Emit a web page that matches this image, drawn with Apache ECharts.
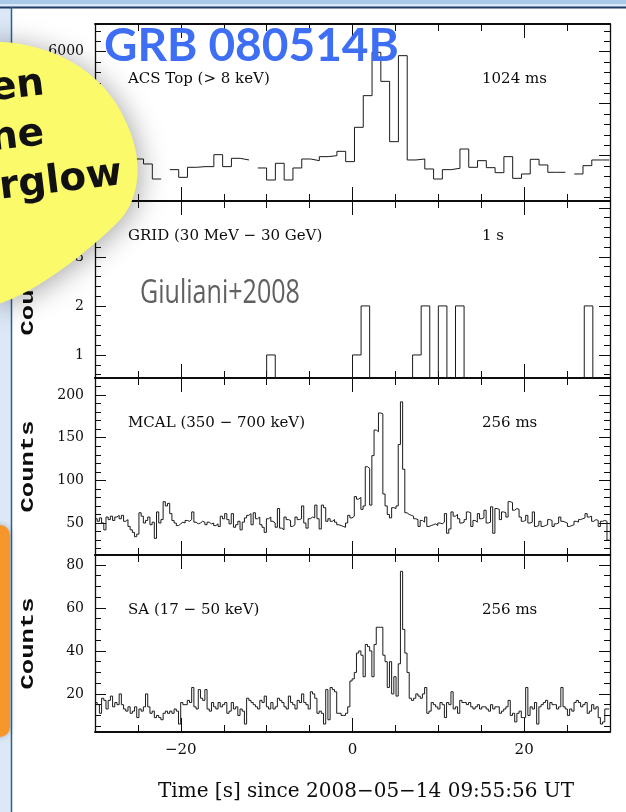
<!DOCTYPE html>
<html><head><meta charset="utf-8">
<script src="https://cdn.jsdelivr.net/npm/echarts@6/dist/echarts.min.js"></script>
<style>html,body{margin:0;padding:0;background:#fff}#c{width:626px;height:812px}</style>
</head><body><div id="c"></div>
<script>
// ---------------- DATA ----------------
// ACS Top (> 8 keV), 1024 ms bins (null = data gap)
const acsStart = -30.49, acsBinWidth = 1.024;
const acsCounts = [3750, 3650, 3850, 3700, 3584, 3937, 3841, 3552, null, 3732,
  3584, 3777, 3790, 3790, 4020, 3790, 3950, 3918, null, 3764,
  3533, 3854, 3533, 3764, 3937, 3905, 3982, 4001, 4084, 3886,
  4546, 5155, 5988, 5430, 4270, 5924, 3918, 3937, 3745, 3552,
  3732, 3758, 4129, 3777, 3905, 3770, 3674, 3982, 3565, 3649,
  3931, 3822, 3681, 3681, null, 3649, 3809, 3918, 3918];

// GRID (30 MeV - 30 GeV), 1 s bins
const gridStart = -30, gridBinWidth = 1;
const gridCounts = [0,0,0,0,0,0,0,0,0,0, 0,0,0,0,0,0,0,0,0,0,
  1,0,0,0,0,0,0,0,0,0, 1,2,0,0,0,0,0,1,2,0,
  2,0,2,0,0,0,0,0,0,0, 0,0,0,0,0,0,0,2,0,0];

// MCAL (350 - 700 keV), 256 ms bins
const mcalStart = -30, mcalBinWidth = 0.256;
const mcalCounts = [55, 52, 56, 50, 42, 57, 54, 58, 53, 57,
  59, 55, 59, 52, 54, 46, 42, 39, 34, 37,
  62, 58, 50, 53, 57, 48, 51, 32, 63, 50,
  54, 75, 70, 73, 61, 53, 50, 47, 49, 51,
  50, 53, 52, 54, 63, 51, 49, 50, 52, 51,
  48, 51, 49, 50, 47, 49, 46, 58, 55, 61,
  54, 49, 61, 45, 48, 52, 42, 51, 56, 59,
  61, 48, 62, 55, 57, 48, 45, 39, 55, 57,
  52, 50, 45, 67, 44, 42, 57, 54, 53, 46,
  48, 57, 54, 55, 70, 50, 44, 55, 57, 56,
  71, 55, 43, 71, 68, 52, 55, 52, 54, 51,
  48, 47, 46, 45, 50, 59, 56, 58, 81, 78,
  80, 66, 70, 116, 114, 71, 129, 159, 157, 179,
  178, 84, 70, 60, 56, 68, 67, 70, 142, 192,
  113, 62, 60, 59, 58, 55, 54, 46, 53, 51,
  57, 46, 47, 48, 49, 47, 50, 49, 51, 61,
  38, 43, 63, 58, 60, 55, 50, 51, 54, 63,
  62, 46, 53, 51, 61, 55, 56, 65, 50, 51,
  69, 38, 67, 66, 54, 63, 62, 57, 75, 74,
  65, 67, 66, 57, 52, 53, 59, 50, 51, 63,
  46, 47, 52, 46, 47, 48, 54, 53, 46, 49,
  50, 57, 52, 51, 50, 46, 47, 48, 52, 51,
  54, 55, 56, 61, 57, 58, 52, 54, 53, 46,
  52, 53, 52, 30];

// SA (17 - 50 keV), 256 ms bins
const saStart = -30, saBinWidth = 0.256;
const saCounts = [16, 15, 11, 18, 17, 13, 17, 19, 14, 16,
  15, 20, 15, 13, 12, 14, 11, 12, 14, 9,
  13, 12, 14, 20, 14, 11, 12, 9, 10, 9,
  8, 11, 12, 11, 12, 11, 13, 12, 6, 16,
  15, 15, 17, 16, 23, 14, 13, 22, 18, 17,
  22, 13, 12, 16, 14, 13, 16, 14, 15, 16,
  11, 12, 16, 13, 14, 10, 13, 12, 6, 18,
  17, 16, 15, 14, 13, 17, 16, 19, 14, 13,
  16, 13, 14, 18, 17, 16, 14, 13, 19, 16,
  15, 13, 17, 16, 20, 16, 15, 13, 21, 20,
  18, 11, 12, 11, 6, 22, 8, 23, 22, 21,
  11, 11, 10, 10, 11, 14, 26, 27, 30, 39,
  40, 38, 28, 43, 42, 40, 28, 43, 51, 51,
  51, 38, 35, 23, 35, 20, 28, 19, 34, 77,
  50, 39, 30, 18, 17, 18, 20, 19, 18, 20,
  23, 11, 12, 16, 15, 14, 13, 16, 15, 9,
  16, 15, 21, 13, 14, 11, 17, 16, 16, 15,
  16, 14, 13, 14, 15, 13, 14, 14, 13, 12,
  15, 13, 14, 14, 11, 12, 13, 14, 17, 10,
  11, 7, 11, 12, 9, 9, 23, 10, 14, 13,
  16, 6, 14, 15, 16, 17, 13, 16, 15, 15,
  13, 14, 23, 14, 13, 10, 13, 12, 16, 17,
  16, 14, 15, 16, 11, 12, 15, 13, 14, 9,
  6, 7, 13, 13];

// Tick values
const xMajorTicks = [-20, 0, 20];
const acsMinorTicks = [3200,3400,3600,3800,4000,4200,4400,4600,4800,5000,5200,5400,5600,5800,6000,6200,6400];
const acsMajorTicks = [4000, 5000, 6000];
const acsTickLabels = [6000];
const gridMinorTicks = [0.6,0.8,1,1.2,1.4,1.6,1.8,2,2.2,2.4,2.6,2.8,3,3.2,3.4,3.6,3.8,4];
const gridMajorTicks = [1, 2, 3, 4];
const gridTickLabels = [1, 2, 3];
const mcalMinorTicks = [20,30,40,50,60,70,80,90,100,110,120,130,140,150,160,170,180,190,200,210];
const mcalMajorTicks = [50, 100, 150, 200];
const mcalTickLabels = [50, 100, 150, 200];
const saMinorTicks = [5,10,15,20,25,30,35,40,45,50,55,60,65,70,75,80];
const saMajorTicks = [20, 40, 60, 80];
const saTickLabels = [20, 40, 60, 80];

// ---------------- BUILD ----------------
function histPoints(start, width, counts) {
  const pts = [];
  counts.forEach((v, i) => {
    const s = start + i * width, e = s + width;
    if (v === null) { pts.push([s + width / 2, null]); }
    else { pts.push([s, v]); pts.push([e, v]); }
  });
  return pts;
}

const serif = 'DejaVu Serif';
const ink = '#0d0d0d';
const panels = [
  {top: 24, data: histPoints(acsStart, acsBinWidth, acsCounts), min: 3129, max: 6533,
   minor: acsMinorTicks, major: acsMajorTicks, labels: acsTickLabels},
  {top: 201, data: histPoints(gridStart, gridBinWidth, gridCounts), min: 0.53, max: 4.14,
   minor: gridMinorTicks, major: gridMajorTicks, labels: gridTickLabels},
  {top: 378, data: histPoints(mcalStart, mcalBinWidth, mcalCounts), min: 12.5, max: 220,
   minor: mcalMinorTicks, major: mcalMajorTicks, labels: mcalTickLabels},
  {top: 555, data: histPoints(saStart, saBinWidth, saCounts), min: 2.3, max: 84.6,
   minor: saMinorTicks, major: saMajorTicks, labels: saTickLabels}
];

const grids = [], xAxes = [], yAxes = [], series = [];
const lineSt = {color: ink, width: 1.8};
const tickSt = {color: ink, width: 1};
panels.forEach((p, i) => {
  const last = i === panels.length - 1;
  grids.push({left: 95, right: 16, top: p.top, height: 177});
  const xb = {gridIndex: i, type: 'value', min: -30, max: 30, splitLine: {show: false},
    axisLine: {show: false, onZero: false}, axisTick: {show: false}, axisLabel: {show: false}};
  ['bottom', 'top'].forEach(pos => {
    xAxes.push(Object.assign({}, xb, {position: pos, interval: 5,
      axisLine: {show: true, onZero: false, lineStyle: lineSt},
      axisTick: {show: true, inside: true, length: 7, lineStyle: tickSt}}));
    xAxes.push(Object.assign({}, xb, {position: pos,
      axisTick: {show: true, inside: true, length: 14, customValues: xMajorTicks, lineStyle: tickSt},
      axisLabel: (last && pos === 'bottom') ? {show: true, customValues: xMajorTicks,
        formatter: v => String(v).replace('-', '\u2212'), fontFamily: serif, fontSize: 15, color: ink, margin: 11}
        : {show: false}}));
  });
  const yb = {gridIndex: i, type: 'value', min: p.min, max: p.max, splitLine: {show: false},
    axisLine: {show: false, onZero: false}, axisTick: {show: false}, axisLabel: {show: false}};
  ['left', 'right'].forEach(pos => {
    yAxes.push(Object.assign({}, yb, {position: pos,
      axisLine: {show: true, onZero: false, lineStyle: {color: ink, width: 1.3}},
      axisTick: {show: true, inside: true, length: 6, customValues: p.minor, lineStyle: tickSt},
      axisLabel: pos === 'left' ? {show: true, customValues: p.labels, formatter: v => String(v),
        fontFamily: serif, fontSize: 14, color: ink, margin: 11} : {show: false}}));
    yAxes.push(Object.assign({}, yb, {position: pos,
      axisTick: {show: true, inside: true, length: 11, customValues: p.major, lineStyle: tickSt}}));
  });
  series.push({type: 'line', xAxisIndex: i * 4, yAxisIndex: i * 4, data: p.data,
    symbol: 'none', showSymbol: false, clip: true, silent: true, animation: false,
    lineStyle: {color: '#1a1a1a', width: 1}});
});

function txtA(text, x, y, font, align, extra) {
  const el = {type: 'text', x: x, y: y, z: 20,
    style: {text: text, font: font, fill: ink, align: align, textAlign: align,
      verticalAlign: 'middle', textVerticalAlign: 'middle'}};
  if (extra) { Object.keys(extra).forEach(k => { if (k === 'style') Object.assign(el.style, extra.style); else el[k] = extra[k]; }); }
  return el;
}

// yellow callout outline (slide decoration): sampled cubic Bezier segments
function bezierOutline(segs) {
  const pts = [];
  segs.forEach(s => {
    for (let j = 0; j <= 24; j++) {
      const t = j / 24, u = 1 - t;
      pts.push([u*u*u*s[0][0] + 3*u*u*t*s[1][0] + 3*u*t*t*s[2][0] + t*t*t*s[3][0],
                u*u*u*s[0][1] + 3*u*u*t*s[1][1] + 3*u*t*t*s[2][1] + t*t*t*s[3][1]]);
    }
  });
  return pts;
}
const blobPts = bezierOutline([
  [[-20, 42], [45, 38], [102, 68], [125, 120]],
  [[125, 120], [145, 160], [140, 200], [118, 222]],
  [[118, 222], [95, 245], [40, 292], [-5, 305]]
]);

const f15 = '15px "DejaVu Serif"';
const blobFont = 'bold 39px "DejaVu Sans"';
const countsFont = 'bold 18px "Liberation Mono"';
const graphic = [
  {type: 'rect', z: 0, shape: {x: 0, y: 0, width: 11, height: 812}, style: {fill: '#dce8f5'}},
  {type: 'rect', z: 0, shape: {x: 0, y: 0, width: 626, height: 4}, style: {fill: '#a9c9e9'}},
  {type: 'rect', z: 0, shape: {x: 0, y: 4, width: 626, height: 3}, style: {fill: '#dbe8f5'}},
  {type: 'line', z: 1, shape: {x1: 0, y1: 7.5, x2: 626, y2: 7.5}, style: {stroke: '#1f3c66', lineWidth: 2}},
  {type: 'line', z: 1, shape: {x1: 11.5, y1: 7, x2: 11.5, y2: 812}, style: {stroke: '#2f5f96', lineWidth: 1.5}},
  {type: 'rect', z: 2, shape: {x: -20, y: 525, width: 30, height: 212, r: 10},
    style: {fill: '#f7962b', shadowBlur: 6, shadowColor: 'rgba(0,0,0,0.25)'}},
  // panel annotations
  txtA('ACS Top (> 8 keV)', 128, 79, f15, 'left'),
  txtA('1024 ms', 482, 79, f15, 'left'),
  txtA('GRID (30 MeV \u2212 30 GeV)', 128, 236, f15, 'left'),
  txtA('1 s', 482, 236, f15, 'left'),
  txtA('MCAL (350 \u2212 700 keV)', 128, 423, f15, 'left'),
  txtA('256 ms', 482, 423, f15, 'left'),
  txtA('SA (17 \u2212 50 keV)', 128, 610, f15, 'left'),
  txtA('256 ms', 482, 610, f15, 'left'),
  // axis titles
  txtA('Time [s] since 2008\u221205\u221214 09:55:56 UT', 366, 792, '20px "DejaVu Serif"', 'center'),
  txtA('Counts', 28, 289.5, countsFont, 'center', {rotation: Math.PI / 2, scaleX: 1.42}),
  txtA('Counts', 28, 466.5, countsFont, 'center', {rotation: Math.PI / 2, scaleX: 1.42}),
  txtA('Counts', 28, 643.5, countsFont, 'center', {rotation: Math.PI / 2, scaleX: 1.42}),
  // slide overlays
  txtA('GRB 080514B', 104, 46, 'bold 46px Lato', 'left', {z: 60, style: {fill: '#3d6ef3'}}),
  txtA('Giuliani+2008', 140, 294, '33px "Open Sans"', 'left', {z: 60, scaleX: 0.76, style: {fill: '#606060'}}),
  {type: 'polygon', z: 100, shape: {points: blobPts},
    style: {fill: '#fbfa6b', shadowBlur: 28, shadowColor: 'rgba(0,0,0,0.35)', shadowOffsetX: 3, shadowOffsetY: 3}},
  txtA('en', 44, 84, blobFont, 'right', {z: 101, rotation: 0.12, style: {fill: '#111'}}),
  txtA('ne', 44, 134, blobFont, 'right', {z: 101, rotation: 0.12, style: {fill: '#111'}}),
  txtA('rglow', 122, 174, blobFont, 'right', {z: 101, rotation: 0.12, style: {fill: '#111'}})
];

const chart = echarts.init(document.getElementById('c'), null, {renderer: 'canvas'});
chart.setOption({
  animation: false,
  backgroundColor: '#ffffff',
  textStyle: {fontFamily: serif},
  grid: grids, xAxis: xAxes, yAxis: yAxes, series: series, graphic: graphic
});
</script>
</body></html>
